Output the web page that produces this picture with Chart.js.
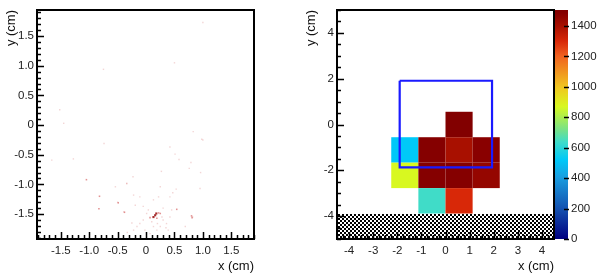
<!DOCTYPE html>
<html>
<head>
<meta charset="utf-8">
<script src="https://cdn.jsdelivr.net/npm/chart.js@4.4.1/dist/chart.umd.min.js"></script>
<style>
  html, body { margin: 0; padding: 0; background: #fff; }
  #wrap { position: relative; width: 599px; height: 278px; }
  canvas { position: absolute; top: 0; }
</style>
</head>
<body>
<div id="wrap">
  <canvas id="hitsChart" width="300" height="278" style="left:0"></canvas>
  <canvas id="mapChart" width="299" height="278" style="left:300px"></canvas>
</div>
<script>
// Panel izquierdo: posiciones de los impactos (cm)
const faintX = [1.0, -0.75, 0.5, -1.52, -1.45, 1.0, 0.83, -1.66, -1.28, -0.74, -0.23, -0.34, 0.27, 0.42, 0.51, 0.58, 0.79, 0.76, 0.95, 0.98, 0.47, 0.25, 0.53, 0.96, -0.54, -0.34, -0.22, -0.11, -0.19, -0.05, 0.13, 0.22, 0.42, 0.28, 0.10, 0.20, 0.30, 0.01, 0.04, 0.25, 0.13, -0.05, -0.11, -0.16, -0.22, -0.25, 0.36, 0.42, 0.39, 0.45, 0.30, -0.02, 0.19, 0.07, -0.33, 0.69, 0.35, -0.39, -0.50, 0.82];
const faintY = [1.73, 0.94, 1.05, 0.26, 0.03, -0.25, -0.11, -0.59, -0.57, -0.31, -0.87, -0.98, -0.78, -0.37, -0.49, -0.58, -0.63, -0.73, -1.07, -0.24, -1.14, -1.04, -1.08, -0.80, -1.04, -0.99, -1.18, -1.21, -1.35, -1.37, -1.26, -1.21, -1.21, -1.55, -1.63, -1.66, -1.60, -1.49, -1.43, -1.71, -1.71, -1.60, -1.66, -1.71, -1.77, -1.65, -1.66, -1.55, -1.77, -1.43, -1.40, -1.77, -1.77, -1.83, -1.81, -1.71, -1.73, -1.46, -1.30, -1.55];
const hitX = [-1.05, 0.22, 0.25, 0.07, 0.19, -0.49, 0.80, -0.82, -0.83, 0.54, -0.38, 0.81];
const hitY = [-0.92, -1.48, -1.49, -1.56, -1.57, -1.31, -1.53, -1.20, -1.41, -1.42, -1.47, -1.56];
const coreX = [0.16, 0.18, 0.13];
const coreY = [-1.52, -1.49, -1.55];
const ticksIzq = [-1.5, -1.0, -0.5, 0, 0.5, 1.0, 1.5];

// Panel derecho: mapa de carga por pad
const padX = [0.5625, -1.6875, -0.5625, 0.5625, 1.6875, -1.6875, -0.5625, 0.5625, 1.6875, -0.5625, 0.5625];
const padY = [0, -1.111, -1.111, -1.111, -1.111, -2.222, -2.222, -2.222, -2.222, -3.333, -3.333];
const padCarga = [1500, 520, 1490, 1400, 1480, 870, 1490, 1490, 1450, 640, 1300];
const binW = 1.125, binH = 10 / 9;
const ticksDerX = [-4, -3, -2, -1, 0, 1, 2, 3, 4];
const ticksDerY = [-4, -2, 0, 2, 4];
const ticksZ = [0, 200, 400, 600, 800, 1000, 1200, 1400];

// zona muerta (rayada)
const zonaMuertaX = [-4.5, 4.5];
const zonaMuertaY = [-5, -3.889];

// recuadro azul
const recuadroX = [-1.9, 1.93, 1.93, -1.9, -1.9];
const recuadroY = [1.91, 1.91, -1.87, -1.87, 1.91];

const zMax = 1505;

// Paleta tipo arcoiris
const paletaPos = [0, 0.13, 0.27, 0.345, 0.425, 0.47, 0.578, 0.66, 0.8, 0.864, 0.93, 0.985, 1];
const paletaCol = [[0, 0, 128], [20, 80, 175], [26, 158, 224], [0, 200, 248], [64, 220, 200], [112, 224, 144], [216, 248, 32], [240, 200, 32], [240, 96, 32], [216, 40, 8], [168, 16, 0], [136, 0, 0], [128, 0, 0]];

function colorCarga(v) {
  const t = Math.max(0, Math.min(1, v / zMax));
  for (let i = 1; i < paletaPos.length; i++) {
    if (t <= paletaPos[i]) {
      const f = (t - paletaPos[i - 1]) / (paletaPos[i] - paletaPos[i - 1]);
      const a = paletaCol[i - 1], b = paletaCol[i];
      return `rgb(${Math.round(a[0] + (b[0] - a[0]) * f)},${Math.round(a[1] + (b[1] - a[1]) * f)},${Math.round(a[2] + (b[2] - a[2]) * f)})`;
    }
  }
  return 'rgb(128,0,0)';
}

const fuente = '"Liberation Sans", Arial, Helvetica, sans-serif';
Chart.defaults.font.family = fuente;
Chart.defaults.color = '#222';

// Marco y marcas hacia dentro (estilo ROOT)
const marcoPlugin = {
  id: 'marco',
  afterDraw(chart, args, opts) {
    const { ctx, chartArea: a, scales: { x, y } } = chart;
    ctx.save();
    ctx.strokeStyle = '#000';
    ctx.lineWidth = 1.5;
    ctx.beginPath();
    let n0 = Math.ceil(x.min / opts.xMenor - 1e-6), n1 = Math.floor(x.max / opts.xMenor + 1e-6);
    for (let n = n0; n <= n1; n++) {
      const v = n * opts.xMenor;
      const mayor = Math.abs(v / opts.xMayor - Math.round(v / opts.xMayor)) < 1e-6;
      const px = Math.round(x.getPixelForValue(v)) + 0.5;
      ctx.moveTo(px, a.bottom);
      ctx.lineTo(px, a.bottom - (mayor ? 7 : 4));
    }
    n0 = Math.ceil(y.min / opts.yMenor - 1e-6); n1 = Math.floor(y.max / opts.yMenor + 1e-6);
    for (let n = n0; n <= n1; n++) {
      const v = n * opts.yMenor;
      const mayor = Math.abs(v / opts.yMayor - Math.round(v / opts.yMayor)) < 1e-6;
      const py = Math.round(y.getPixelForValue(v)) + 0.5;
      ctx.moveTo(a.left, py);
      ctx.lineTo(a.left + (mayor ? 7 : 4), py);
    }
    ctx.stroke();
    ctx.lineWidth = 2;
    ctx.strokeRect(a.left, a.top, a.right - a.left, a.bottom - a.top);
    ctx.restore();
  }
};

function tramaRayada() {
  const c = document.createElement('canvas');
  c.width = 4; c.height = 4;
  const g = c.getContext('2d');
  g.fillStyle = '#fff';
  g.fillRect(0, 0, 4, 4);
  g.fillStyle = '#000';
  g.fillRect(0, 0, 2, 2);
  g.fillRect(2, 2, 2, 2);
  return c;
}

const padsPlugin = {
  id: 'pads',
  beforeDatasetsDraw(chart) {
    const { ctx, chartArea: a, scales: { x, y } } = chart;
    ctx.save();
    ctx.beginPath();
    ctx.rect(a.left, a.top, a.right - a.left, a.bottom - a.top);
    ctx.clip();
    padX.forEach((cx, i) => {
      const x0 = x.getPixelForValue(cx - binW / 2), x1 = x.getPixelForValue(cx + binW / 2);
      const y0 = y.getPixelForValue(padY[i] + binH / 2), y1 = y.getPixelForValue(padY[i] - binH / 2);
      ctx.fillStyle = colorCarga(padCarga[i]);
      ctx.fillRect(x0, y0, x1 - x0, y1 - y0);
    });
    ctx.fillStyle = ctx.createPattern(tramaRayada(), 'repeat');
    const hx0 = x.getPixelForValue(zonaMuertaX[0]), hx1 = x.getPixelForValue(zonaMuertaX[1]);
    const hy0 = Math.round(y.getPixelForValue(zonaMuertaY[1])), hy1 = y.getPixelForValue(zonaMuertaY[0]);
    ctx.fillRect(hx0, hy0, hx1 - hx0, hy1 - hy0);
    ctx.restore();
  }
};

// Barra de color usando la escala z
const barraPlugin = {
  id: 'barra',
  afterDraw(chart) {
    const { ctx, chartArea: a, scales: { z } } = chart;
    const yb = z.getPixelForValue(0), yt = z.getPixelForValue(zMax);
    const x0 = a.right + 1, x1 = a.right + 14;
    const grad = ctx.createLinearGradient(0, yb, 0, yt);
    paletaPos.forEach((p, i) => grad.addColorStop(p, `rgb(${paletaCol[i].join(',')})`));
    ctx.save();
    ctx.fillStyle = grad;
    ctx.fillRect(x0, yt, x1 - x0, yb - yt);
    ctx.strokeStyle = '#000';
    ctx.lineWidth = 1.5;
    ctx.beginPath();
    z.ticks.forEach(t => {
      const py = Math.round(z.getPixelForValue(t.value)) + 0.5;
      ctx.moveTo(x1 - 4, py);
      ctx.lineTo(x1 + 1, py);
    });
    ctx.stroke();
    ctx.restore();
  }
};

const fijarTicks = valores => s => { s.ticks = valores.map(v => ({ value: v })); };
const sinRelleno = s => { s.paddingTop = 0; s.paddingBottom = 0; s.paddingLeft = 0; s.paddingRight = 0; };

function ejeX(min, max, valores, fmt) {
  return {
    type: 'linear', position: 'bottom', min, max,
    afterBuildTicks: fijarTicks(valores),
    afterFit: s => { s.height = 39; sinRelleno(s); },
    grid: { display: false, drawTicks: false },
    border: { display: false },
    ticks: { padding: 5, maxRotation: 0, autoSkip: false, font: { size: 11.5 }, color: '#222', callback: fmt },
    title: { display: true, text: 'x (cm)', align: 'end', color: '#111', font: { size: 13 }, padding: { top: 0, bottom: 3.5 } }
  };
}
function ejeY(min, max, valores, fmt) {
  return {
    type: 'linear', position: 'left', min, max,
    afterBuildTicks: fijarTicks(valores),
    afterFit: s => { s.width = 37; sinRelleno(s); },
    grid: { display: false, drawTicks: false },
    border: { display: false },
    ticks: { padding: 3, autoSkip: false, font: { size: 11.5 }, color: '#222', callback: fmt },
    title: { display: true, text: 'y (cm)', align: 'end', color: '#111', font: { size: 13 }, padding: { top: 4, bottom: 0 } }
  };
}
const fmtDec = v => (Math.abs(v) < 1e-9 ? '0' : Number(v).toFixed(1));
const fmtEnt = v => String(Math.round(v));

const puntos = (xs, ys) => xs.map((v, i) => ({ x: v, y: ys[i] }));

new Chart(document.getElementById('hitsChart'), {
  type: 'scatter',
  data: {
    datasets: [
      { data: puntos(faintX, faintY), pointStyle: 'rect', pointRadius: 1.0, borderWidth: 0, backgroundColor: 'rgba(215,120,120,0.3)' },
      { data: puntos(hitX, hitY), pointStyle: 'rect', pointRadius: 1.1, borderWidth: 0, backgroundColor: 'rgba(200,40,40,0.5)' },
      { data: puntos(coreX, coreY), pointStyle: 'rect', pointRadius: 1.5, borderWidth: 0, backgroundColor: 'rgba(150,10,10,0.85)' }
    ]
  },
  options: {
    responsive: false,
    animation: false,
    layout: { padding: { left: 0, top: 10, right: 46, bottom: 0 } },
    plugins: {
      legend: { display: false },
      tooltip: { enabled: false },
      marco: { xMenor: 0.1, xMayor: 0.5, yMenor: 0.1, yMayor: 0.5 }
    },
    scales: {
      x: ejeX(-1.92, 1.9, ticksIzq, fmtDec),
      y: ejeY(-1.92, 1.94, ticksIzq, fmtDec)
    }
  },
  plugins: [marcoPlugin]
});

new Chart(document.getElementById('mapChart'), {
  type: 'scatter',
  data: {
    datasets: [
      { data: puntos(recuadroX, recuadroY), showLine: true, borderColor: '#1a1aff', borderWidth: 2.2, pointRadius: 0, fill: false, tension: 0 }
    ]
  },
  options: {
    responsive: false,
    animation: false,
    layout: { padding: { left: 0, top: 10, right: 0, bottom: 0 } },
    plugins: {
      legend: { display: false },
      tooltip: { enabled: false },
      marco: { xMenor: 0.25, xMayor: 1, yMenor: 0.5, yMayor: 2 }
    },
    scales: {
      x: ejeX(-4.5, 4.5, ticksDerX, fmtEnt),
      y: ejeY(-5, 5, ticksDerY, fmtEnt),
      z: {
        type: 'linear', position: 'right', min: 0, max: zMax,
        afterBuildTicks: fijarTicks(ticksZ),
        afterFit: s => { s.width = 45; sinRelleno(s); },
        grid: { display: false, drawTicks: false },
        border: { display: false },
        ticks: { padding: 17, autoSkip: false, font: { size: 11.5 }, color: '#222', callback: v => String(v) }
      }
    }
  },
  plugins: [padsPlugin, marcoPlugin, barraPlugin]
});
</script>
</body>
</html>
